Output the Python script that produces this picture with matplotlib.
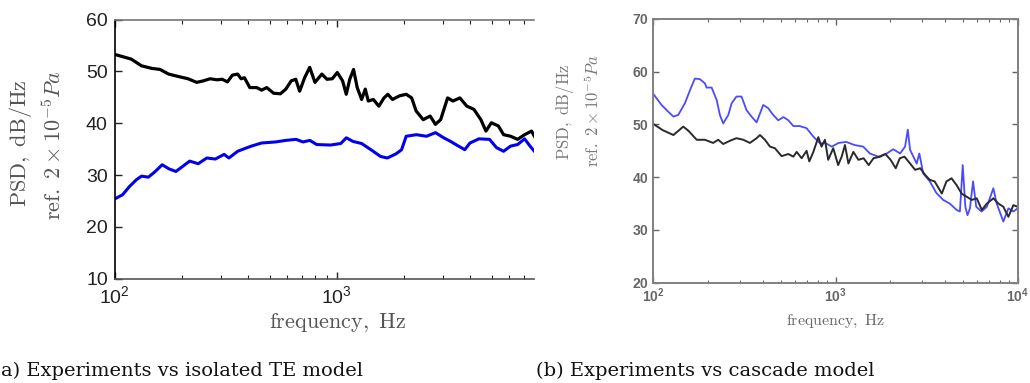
import numpy as np
import matplotlib
matplotlib.use("Agg")
import matplotlib.pyplot as plt
from matplotlib.ticker import FuncFormatter, LogLocator, FixedLocator, NullFormatter

plt.rcParams['mathtext.fontset'] = 'custom'
plt.rcParams['mathtext.rm'] = 'Liberation Sans'
plt.rcParams['mathtext.bf'] = 'Liberation Sans:bold'
plt.rcParams['font.family'] = ['Liberation Sans']

# ---------------- data: panel (a) ----------------
a_exp_freq = [100, 118.6, 132, 147, 160, 175, 195, 214, 234, 251, 269, 289, 305, 322, 339, 358, 371,
              384, 406, 436, 459, 484, 520, 558, 590, 624, 654, 681, 717, 756, 798, 857, 904, 955,
              1006, 1063, 1104, 1145, 1191, 1237, 1295, 1345, 1388, 1463, 1548, 1633, 1700, 1783,
              1918, 2056, 2176, 2278, 2453, 2636, 2785, 2939, 3159, 3337, 3589, 3858, 4148, 4461,
              4702, 4973, 5345, 5647, 6075, 6530, 7020, 7545, 7770]
a_exp_psd = [53.3, 52.4, 51.1, 50.6, 50.4, 49.5, 49.0, 48.6, 47.9, 48.2, 48.6, 48.4, 48.5, 48.0, 49.3,
             49.5, 48.6, 48.8, 46.9, 46.9, 46.4, 46.9, 45.8, 45.7, 46.6, 48.2, 48.5, 46.2, 48.8, 50.8,
             47.9, 49.5, 48.5, 48.6, 49.8, 48.2, 45.6, 48.5, 50.4, 46.9, 44.6, 46.6, 44.3, 44.6, 43.3,
             44.9, 45.6, 44.6, 45.3, 45.6, 44.9, 42.4, 40.7, 41.4, 39.8, 40.7, 44.9, 44.3, 44.9, 43.3,
             42.7, 40.7, 38.5, 40.1, 39.5, 37.8, 37.5, 36.9, 37.8, 38.5, 37.5]

a_model_freq = [100, 108.5, 116.6, 125.2, 132.1, 141.8, 152.3, 163.6, 175.7, 188.7, 202.6, 217.6, 237.8,
                260, 284, 311, 327, 358, 384, 413, 459, 530, 590, 656, 705, 757, 813, 937, 1043, 1105,
                1184, 1295, 1438, 1576, 1690, 1850, 1960, 2056, 2285, 2540, 2785, 3035, 3260, 3440,
                3775, 3984, 4373, 4880, 5246, 5645, 6073, 6530, 7020, 7427, 7770]
a_model_psd = [25.4, 26.2, 27.8, 29.1, 29.8, 29.6, 30.7, 32.0, 31.2, 30.7, 31.7, 32.7, 32.2, 33.3, 33.1,
               34.0, 33.3, 34.6, 35.1, 35.6, 36.2, 36.4, 36.7, 36.9, 36.4, 36.7, 35.9, 35.8, 36.1, 37.2,
               36.5, 36.1, 34.8, 33.6, 33.3, 34.1, 34.9, 37.5, 37.8, 37.5, 38.2, 37.2, 36.5, 35.9, 34.9,
               36.2, 37.0, 36.9, 35.3, 34.6, 35.6, 35.9, 37.0, 35.6, 34.6]

# ---------------- data: panel (b) ----------------
b_model_freq = [100, 111, 121, 129, 137, 149, 159, 169, 180, 192, 196, 209, 223, 232, 242, 258, 269, 286,
                305, 325, 346, 369, 401, 427, 455, 485, 518, 551, 587, 636, 694, 756, 824, 878, 954,
                1040, 1144, 1273, 1420, 1544, 1719, 1910, 2076, 2262, 2409, 2494, 2566, 2790, 2885,
                3031, 3294, 3580, 3898, 4241, 4620, 4818, 4992, 5160, 5300, 5470, 5688, 5920, 6330,
                6770, 7350, 7670, 8340, 8890, 9470, 10000]
b_model_psd = [55.8, 53.7, 52.4, 51.5, 51.8, 54.0, 56.5, 58.7, 58.6, 57.8, 57.0, 57.0, 54.6, 51.8, 50.2,
               51.8, 54.0, 55.3, 55.3, 52.7, 51.5, 50.4, 53.7, 53.1, 51.8, 50.8, 51.4, 50.8, 49.7, 49.7,
               49.3, 47.7, 46.4, 46.5, 45.8, 46.5, 46.7, 46.1, 45.8, 44.5, 43.9, 44.5, 45.3, 44.5, 45.8,
               49.0, 45.2, 42.6, 44.5, 40.7, 39.2, 37.0, 35.7, 35.0, 33.8, 33.5, 42.3, 34.4, 32.8, 34.1,
               39.2, 34.4, 33.5, 34.4, 37.9, 35.0, 31.6, 34.1, 33.5, 34.1]

b_exp_freq = [100, 113, 129, 146, 156, 173, 192, 213, 227, 242, 263, 286, 312, 339, 369, 385, 410, 437,
              465, 506, 551, 587, 612, 652, 694, 718, 756, 805, 838, 875, 912, 972, 1034, 1081, 1127,
              1177, 1253, 1336, 1426, 1521, 1617, 1762, 1878, 2006, 2141, 2254, 2391, 2566, 2736, 2917,
              3110, 3294, 3502, 3833, 4063, 4332, 4620, 4923, 5247, 5593, 5960, 6355, 6773, 7350, 7840,
              8340, 8890, 9470, 10000]
b_exp_psd = [50.1, 48.9, 48.0, 49.6, 48.8, 47.1, 47.1, 46.5, 47.1, 46.3, 46.9, 47.4, 47.1, 46.5, 47.4,
             48.0, 47.1, 45.8, 45.5, 44.0, 44.4, 43.9, 44.8, 43.6, 45.0, 43.0, 44.8, 47.6, 45.8, 47.1,
             43.3, 45.5, 42.3, 43.9, 46.1, 42.6, 44.8, 43.3, 43.6, 42.3, 43.6, 43.9, 44.4, 43.3, 41.7,
             43.6, 43.9, 42.6, 41.4, 41.7, 40.4, 39.5, 39.2, 36.9, 39.2, 39.8, 38.5, 36.9, 36.3, 35.7,
             36.0, 33.8, 35.0, 36.0, 35.0, 34.4, 32.5, 34.7, 34.4]

a_yticks = [10, 20, 30, 40, 50, 60]
b_yticks = [20, 30, 40, 50, 60, 70]

W, H = 1030, 383
fig = plt.figure(figsize=(W / 100, H / 100), dpi=100)


def px_axes(x0, y0, x1, y1):
    return fig.add_axes([x0 / W, 1 - y1 / H, (x1 - x0) / W, (y1 - y0) / H])


def logfmt(bold=False):
    def f(v, p):
        e = int(round(np.log10(v)))
        if bold:
            return r'$\mathbf{10^{%d}}$' % e
        return r'$\mathrm{10^{%d}}$' % e
    return FuncFormatter(f)


# ---------------- panel (a) ----------------
axa = px_axes(114.7, 19.7, 534, 278.7)
axa.plot(a_exp_freq, a_exp_psd, color='black', lw=2.3, solid_joinstyle='round')
axa.plot(a_model_freq, a_model_psd, color='#0000ee', lw=2.2, solid_joinstyle='round')
axa.set_xscale('log')
axa.set_xlim(100, 10 ** (2 + (534 - 114.7) / 222))
axa.set_ylim(10, 60)
axa.set_yticks(a_yticks)
axa.xaxis.set_major_locator(FixedLocator([100, 1000]))
axa.xaxis.set_minor_locator(LogLocator(base=10, subs=np.arange(2, 10)))
axa.xaxis.set_minor_formatter(NullFormatter())
axa.xaxis.set_major_formatter(logfmt())
axa.tick_params(which='both', direction='in', top=True, right=False, labelsize=14, colors='#222222')
axa.tick_params(which='major', length=5, width=1, pad=5)
axa.tick_params(which='minor', length=3, width=0.8)
axa.spines['right'].set_visible(False)
axa.spines['left'].set_color('black')
axa.spines['bottom'].set_color('#555555')
axa.spines['top'].set_color('#777777')
for s in axa.spines.values():
    s.set_linewidth(1.2)
axa.set_xlabel(r'$\mathrm{frequency,\ Hz}$', fontsize=16, color='#555555', math_fontfamily='cm',
               labelpad=0)
axa.xaxis.set_label_coords((338 - 114.7) / (534 - 114.7), -0.125)
axa.xaxis.label.set_va('top')

fig.text(20 / W, 1 - 143 / H, r'$\mathrm{PSD,\ dB/Hz}$', rotation=90, ha='center', va='center',
         fontsize=16, color='#555555', math_fontfamily='cm')
fig.text(54 / W, 1 - 145 / H, r'$\mathrm{ref.\ }2\times10^{-5}Pa$', rotation=90, ha='center',
         va='center', fontsize=16, color='#555555', math_fontfamily='cm')

# ---------------- panel (b) ----------------
axb = px_axes(653.3, 19, 1017.7, 282.7)
axb.plot(b_model_freq, b_model_psd, color='#4a4aff', lw=1.3, solid_joinstyle='round')
axb.plot(b_exp_freq, b_exp_psd, color='#2a2a2a', lw=1.4, solid_joinstyle='round')
axb.set_xscale('log')
axb.set_xlim(100, 10000)
axb.set_ylim(20, 70)
axb.set_yticks(b_yticks)
axb.xaxis.set_major_locator(FixedLocator([100, 1000, 10000]))
axb.xaxis.set_minor_locator(LogLocator(base=10, subs=np.arange(2, 10)))
axb.xaxis.set_minor_formatter(NullFormatter())
axb.xaxis.set_major_formatter(logfmt(bold=True))
axb.yaxis.set_major_formatter(FuncFormatter(lambda v, p: r'$\mathbf{%d}$' % v))
axb.tick_params(which='both', direction='in', top=True, right=True, labelsize=10, colors='#666666')
axb.tick_params(which='major', length=4, width=1, pad=3)
axb.tick_params(which='minor', length=2.5, width=0.8)
for s in axb.spines.values():
    s.set_color('#808080')
    s.set_linewidth(1.4)
axb.set_xlabel(r'$\mathrm{frequency,\ Hz}$', fontsize=11.5, color='#666666', math_fontfamily='cm',
               labelpad=0)
axb.xaxis.set_label_coords(0.5, -0.115)
axb.xaxis.label.set_va('top')

fig.text(565 / W, 1 - 112 / H, r'$\mathrm{PSD,\ dB/Hz}$', rotation=90, ha='center', va='center',
         fontsize=12, color='#777777', math_fontfamily='cm')
fig.text(592 / W, 1 - 111 / H, r'$\mathrm{ref.\ }2\times10^{-5}Pa$', rotation=90, ha='center',
         va='center', fontsize=12, color='#777777', math_fontfamily='cm')

# ---------------- captions ----------------
fig.text(1 / W, 1 - 376 / H, 'a) Experiments vs isolated TE model', ha='left', va='baseline',
         fontsize=14, family='DejaVu Serif', color='#111111')
fig.text(536 / W, 1 - 376 / H, '(b) Experiments vs cascade model', ha='left', va='baseline',
         fontsize=14, family='DejaVu Serif', color='#111111')

fig.savefig('out.png', dpi=100)
